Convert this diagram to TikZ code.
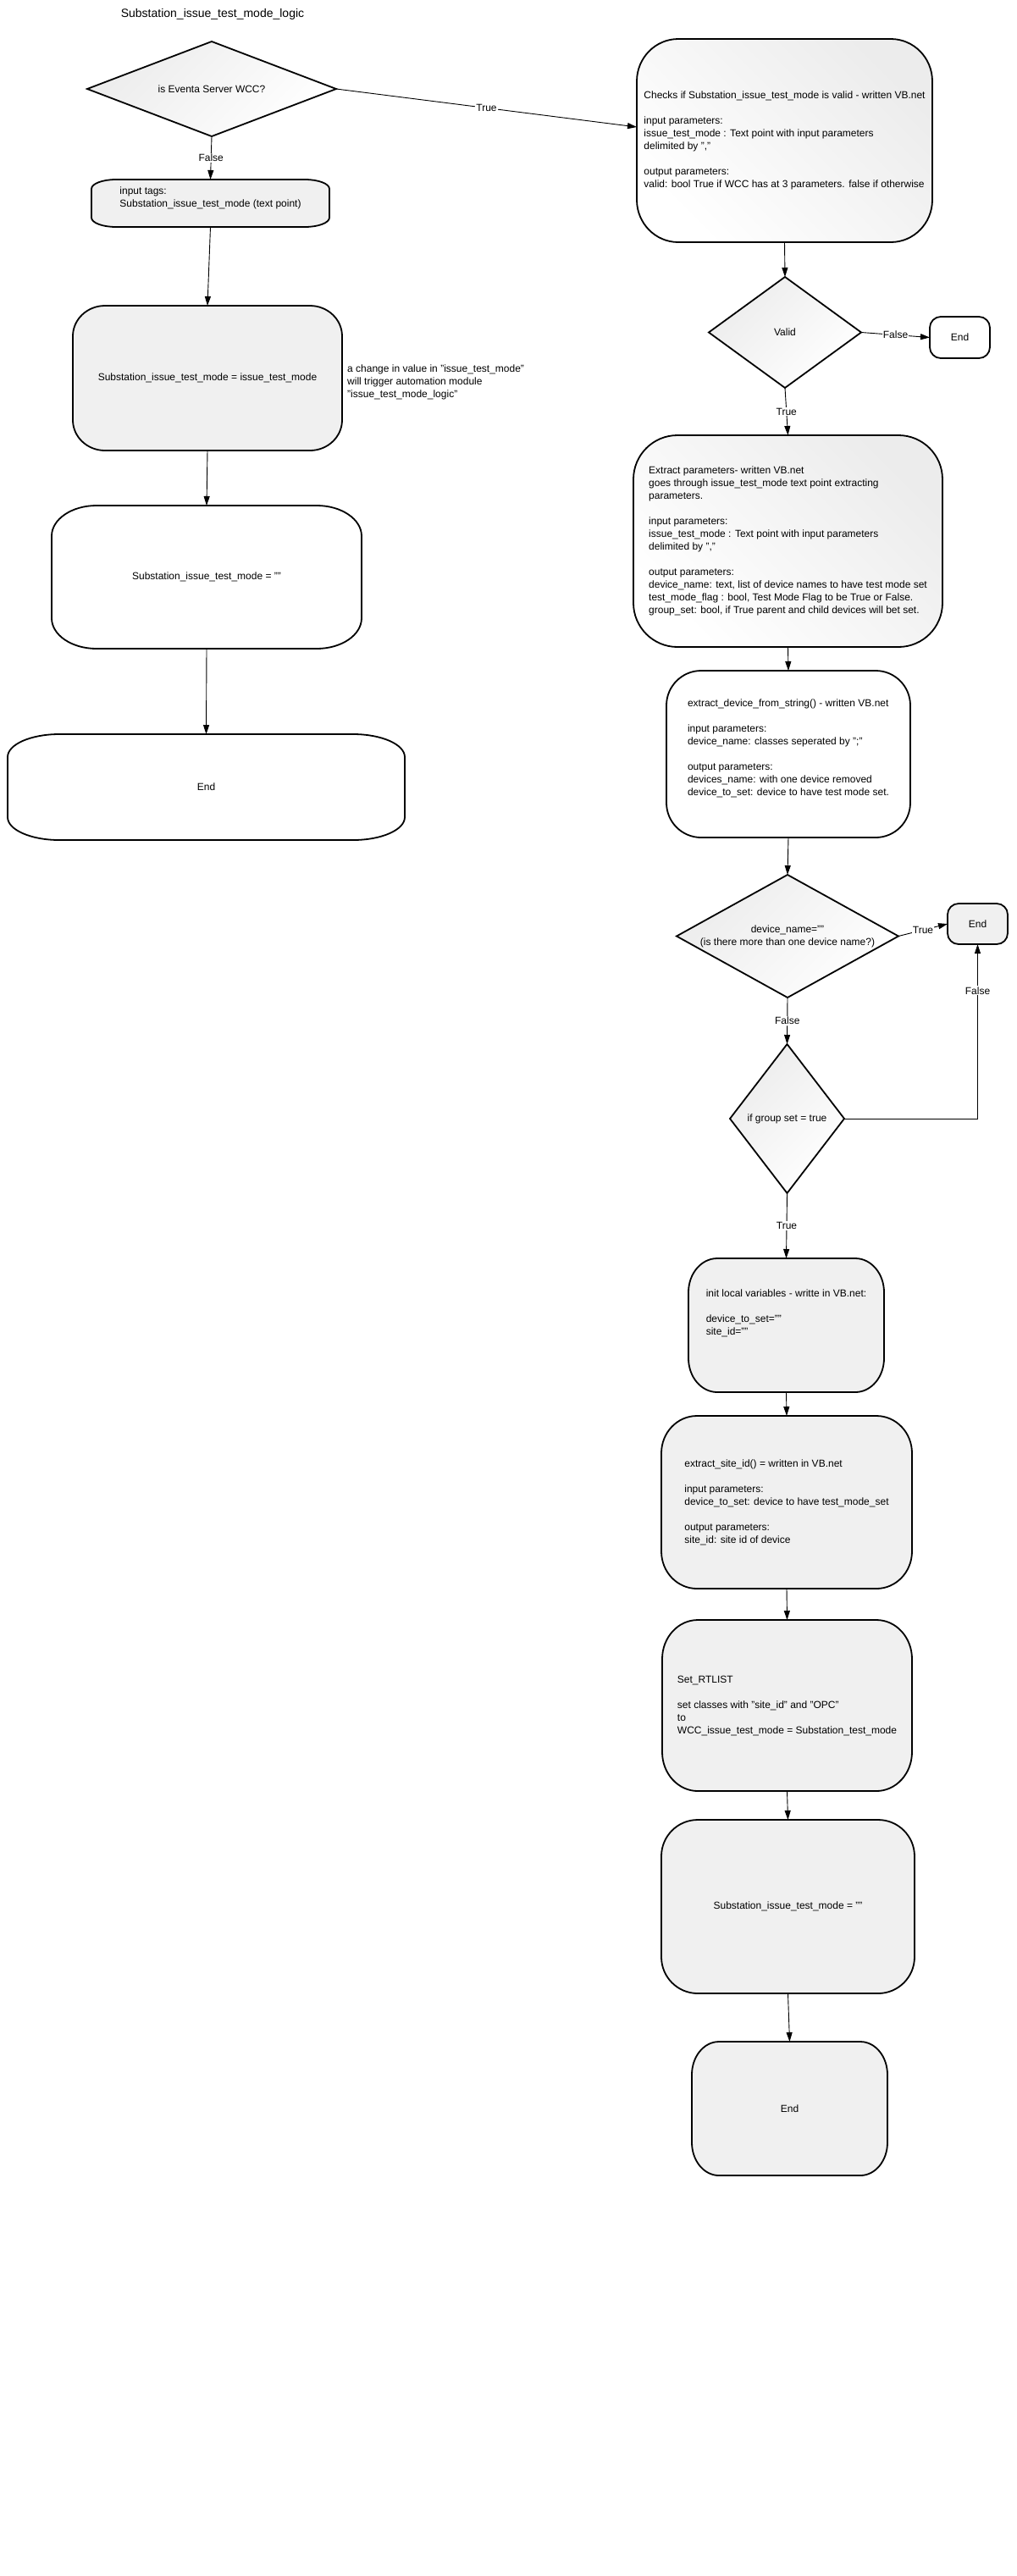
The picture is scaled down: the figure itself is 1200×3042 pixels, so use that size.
\documentclass[tikz,border=0pt]{standalone}
\usepackage{fontspec}
\setmainfont{Liberation Sans}
\usetikzlibrary{shapes.geometric,arrows.meta}
\pgfdeclarelayer{bg}
\pgfsetlayers{bg,main}
\definecolor{boxgray}{RGB}{240,240,240}
\definecolor{shadegray}{RGB}{236,236,236}
% rounded box with elliptical corners drawn behind a named node
\newcommand{\myrbox}[4]{%
\begin{pgfonlayer}{bg}
\path[boxline,#4] ([xshift=#2pt]#1.north west) -- ([xshift=-#2pt]#1.north east)
  arc[start angle=90,end angle=0,x radius=#2pt,y radius=#3pt]
  -- ([yshift=#3pt]#1.south east)
  arc[start angle=0,end angle=-90,x radius=#2pt,y radius=#3pt]
  -- ([xshift=#2pt]#1.south west)
  arc[start angle=270,end angle=180,x radius=#2pt,y radius=#3pt]
  -- ([yshift=-#3pt]#1.north west)
  arc[start angle=180,end angle=90,x radius=#2pt,y radius=#3pt] -- cycle;
\end{pgfonlayer}}
\begin{document}
\begin{tikzpicture}[x=1pt,y=-1pt,
  font=\fontsize{12}{15}\selectfont,
  box/.style={rectangle, inner sep=0pt, outer sep=0pt, align=left},
  boxline/.style={draw=black, line width=1.8pt},
  gfill/.style={left color=white, right color=shadegray, shading angle=135},
  sfill/.style={fill=boxgray},
  wfill/.style={fill=white},
  dia/.style={diamond, draw=black, line width=1.8pt, inner sep=0pt, outer sep=0pt,
    align=center, left color=shadegray, right color=white, shading angle=45},
  conn/.style={draw=black, line width=0.9pt, -{Triangle[length=11pt,width=7pt]}},
  lbl/.style={fill=white, inner sep=1pt}]
\begin{pgfonlayer}{bg}
\fill[white] (0,0) rectangle (1200,3042);
\end{pgfonlayer}
\useasboundingbox (0,0) rectangle (1200,3042);

% ---------------- left column ----------------
\node[font=\fontsize{14}{17}\selectfont] (title) at (251,17) {Substation\_issue\_test\_mode\_logic};

\node[dia, minimum width=294pt, minimum height=112pt, shape aspect=2.625] (d1) at (250,105) {is Eventa Server WCC?};

\node[box, minimum width=281pt, minimum height=56pt] (tags) at (248.5,240)
  {input tags:\\ Substation\_issue\_test\_mode (text point)\\ \mbox{}};
\myrbox{tags}{29}{11}{sfill}

\node[box, minimum width=318pt, minimum height=171pt] (sub1) at (245,446.5)
  {Substation\_issue\_test\_mode = issue\_test\_mode};
\myrbox{sub1}{38}{36}{sfill}

\node[anchor=west, align=left, inner sep=0pt] (note) at (410,451)
  {a change in value in "issue\_test\_mode"\\ will trigger automation module\\ "issue\_test\_mode\_logic"};

\node[box, minimum width=366pt, minimum height=169pt] (sube) at (244,681.5)
  {Substation\_issue\_test\_mode = ""};
\myrbox{sube}{53}{36}{wfill}

\node[box, minimum width=469pt, minimum height=125pt] (end1) at (243.5,929.5) {End};
\myrbox{end1}{61}{27}{wfill}

% ---------------- right column ----------------
\node[box, minimum width=349pt, minimum height=240pt] (chk) at (926.5,166)
  {Checks if Substation\_issue\_test\_mode is valid - written VB.net\\[15pt]
   input parameters:\\
   issue\_test\_mode : Text point with input parameters\\
   delimited by ","\\[15pt]
   output parameters:\\
   valid: bool True if WCC has at 3 parameters. false if otherwise};
\myrbox{chk}{49}{50}{gfill}

\node[dia, minimum width=180pt, minimum height=131pt, shape aspect=1.374] (dv) at (927,392.5) {Valid};

\node[box, minimum width=71pt, minimum height=49pt] (endA) at (1133.5,398.5) {End};
\myrbox{endA}{13}{13}{wfill}

\node[box, minimum width=365pt, minimum height=250pt] (ext) at (930.5,639)
  {Extract parameters- written VB.net\\
   goes through issue\_test\_mode text point extracting\\
   parameters.\\[15pt]
   input parameters:\\
   issue\_test\_mode : Text point with input parameters\\
   delimited by ","\\[15pt]
   output parameters:\\
   device\_name: text, list of device names to have test mode set\\
   test\_mode\_flag : bool, Test Mode Flag to be True or False.\\
   group\_set: bool, if True parent and child devices will bet set.};
\myrbox{ext}{52}{52}{gfill}

\node[box, minimum width=288pt, minimum height=197pt] (dev) at (931,890.5)
  {extract\_device\_from\_string() - written VB.net\\[15pt]
   input parameters:\\
   device\_name: classes seperated by ";"\\[15pt]
   output parameters:\\
   devices\_name: with one device removed\\
   device\_to\_set: device to have test mode set.\\ \mbox{}};
\myrbox{dev}{41}{41}{wfill}

\node[dia, minimum width=262pt, minimum height=145pt, shape aspect=1.807] (d3) at (930,1105.5)
  {device\_name=""\\ (is there more than one device name?)};

\node[box, minimum width=71pt, minimum height=48pt] (end2) at (1154.5,1091) {End};
\myrbox{end2}{13}{13}{sfill}

\node[dia, minimum width=135pt, minimum height=176pt, shape aspect=0.767] (d4) at (929.5,1321) {if group set = true};

\node[box, minimum width=231pt, minimum height=158pt] (init) at (928.5,1565)
  {init local variables - writte in VB.net:\\[15pt]
   device\_to\_set=""\\
   site\_id=""\\ \mbox{}\\ \mbox{}};
\myrbox{init}{34}{40}{sfill}

\node[box, minimum width=296pt, minimum height=204pt] (site) at (929,1774)
  {extract\_site\_id() = written in VB.net\\[15pt]
   input parameters:\\
   device\_to\_set: device to have test\_mode\_set\\[15pt]
   output parameters:\\
   site\_id: site id of device};
\myrbox{site}{42}{44}{sfill}

\node[box, minimum width=295pt, minimum height=202pt] (rtl) at (929.5,2014)
  {Set\_RTLIST\\[15pt]
   set classes with "site\_id" and "OPC"\\
   to\\
   WCC\_issue\_test\_mode = Substation\_test\_mode};
\myrbox{rtl}{42}{46}{sfill}

\node[box, minimum width=299pt, minimum height=205pt] (sub2) at (930.5,2251.5)
  {Substation\_issue\_test\_mode = ""};
\myrbox{sub2}{43}{43}{sfill}

\node[box, minimum width=231pt, minimum height=158pt] (end3) at (932.5,2490) {End};
\myrbox{end3}{32}{39}{sfill}

% ---------------- connectors ----------------
\draw[conn] (d1.south) -- node[lbl]{False} (tags.north);
\draw[conn] (d1.east) -- node[lbl]{True} ([yshift=16pt]chk.west);
\draw[conn] (tags.south) -- (sub1.north);
\draw[conn] (sub1.south) -- (sube.north);
\draw[conn] (sube.south) -- (end1.north);

\draw[conn] (chk.south) -- (dv.north);
\draw[conn] (dv.east) -- node[lbl]{False} (endA.west);
\draw[conn] (dv.south) -- node[lbl]{True} (ext.north);
\draw[conn] (ext.south) -- (dev.north);
\draw[conn] (dev.south) -- (d3.north);
\draw[conn] (d3.east) -- node[lbl]{True} (end2.west);
\draw[conn] (d3.south) -- node[lbl]{False} (d4.north);
\draw[conn] (d4.east) -| node[lbl,pos=0.867]{False} (end2.south);
\draw[conn] (d4.south) -- node[lbl]{True} (init.north);
\draw[conn] (init.south) -- (site.north);
\draw[conn] (site.south) -- (rtl.north);
\draw[conn] (rtl.south) -- (sub2.north);
\draw[conn] (sub2.south) -- (end3.north);
\end{tikzpicture}
\end{document}
